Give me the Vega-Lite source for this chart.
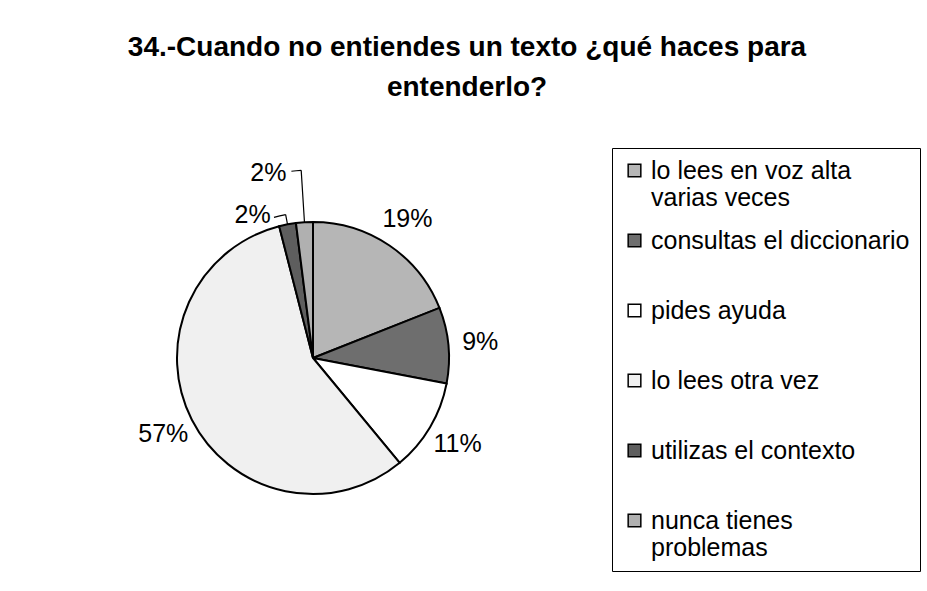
{
  "$schema": "https://vega.github.io/schema/vega-lite/v6.json",
  "autosize": "none",
  "width": 300,
  "height": 300,
  "padding": {"left": 163, "top": 208, "right": 464, "bottom": 83},
  "background": "white",
  "config": {"view": {"stroke": null}, "font": "Liberation Sans"},
  "title": {
    "text": ["34.-Cuando no entiendes un texto ¿qué haces para", "entenderlo?"],
    "font": "Liberation Sans",
    "fontSize": 28,
    "fontWeight": "bold",
    "lineHeight": 40,
    "anchor": "middle",
    "frame": "group",
    "dx": 154,
    "offset": 46,
    "color": "black"
  },
  "data": {
    "values": [
      {"cat": "lo lees en voz alta varias veces", "pct": 0.19, "ord": 1},
      {"cat": "consultas el diccionario", "pct": 0.09, "ord": 2},
      {"cat": "pides ayuda", "pct": 0.11, "ord": 3},
      {"cat": "lo lees otra vez", "pct": 0.57, "ord": 4},
      {"cat": "utilizas el contexto", "pct": 0.02, "ord": 5},
      {"cat": "nunca tienes problemas", "pct": 0.02, "ord": 6}
    ]
  },
  "encoding": {
    "theta": {"field": "pct", "type": "quantitative", "stack": true},
    "order": {"field": "ord", "type": "quantitative"}
  },
  "layer": [
    {
      "mark": {"type": "arc", "outerRadius": 136, "stroke": "black", "strokeWidth": 2},
      "encoding": {
        "color": {
          "field": "cat",
          "type": "nominal",
          "scale": {
            "domain": ["lo lees en voz alta varias veces", "consultas el diccionario", "pides ayuda", "lo lees otra vez", "utilizas el contexto", "nunca tienes problemas"],
            "range": ["#b6b6b6", "#6e6e6e", "#ffffff", "#f0f0f0", "#5e5e5e", "#b0b0b0"]
          },
          "legend": {
            "title": null,
            "orient": "none",
            "legendX": 449,
            "legendY": -60,
            "padding": 10,
            "columns": 1,
            "gridAlign": "all",
            "strokeColor": "black",
            "fillColor": "white",
            "symbolType": "square",
            "symbolSize": 160,
            "symbolOffset": 0,
            "symbolStrokeColor": "black",
            "symbolStrokeWidth": 1.5,
            "labelFont": "Liberation Sans",
            "labelFontSize": 25,
            "labelColor": "black",
            "labelLimit": 400,
            "labelOffset": 4,
            "rowPadding": 17,
            "labelExpr": "datum.label == 'lo lees en voz alta varias veces' ? ['lo lees en voz alta', 'varias veces'] : datum.label == 'nunca tienes problemas' ? ['nunca tienes', 'problemas'] : datum.label"
          }
        }
      }
    },
    {
      "mark": {"type": "arc", "innerRadius": 136, "outerRadius": 188, "padAngle": 0.2, "fill": "transparent", "stroke": "black", "strokeWidth": 1.2},
      "encoding": {
        "strokeOpacity": {"condition": {"test": "datum.ord == 6", "value": 1}, "value": 0}
      }
    },
    {
      "mark": {"type": "arc", "innerRadius": 188, "outerRadius": 188, "padAngle": 0.0519, "thetaOffset": -0.0262, "fill": "transparent", "stroke": "black", "strokeWidth": 1.2},
      "encoding": {
        "strokeOpacity": {"condition": {"test": "datum.ord == 6", "value": 1}, "value": 0}
      }
    },
    {
      "mark": {"type": "arc", "innerRadius": 136, "outerRadius": 146, "padAngle": 0.2, "fill": "transparent", "stroke": "black", "strokeWidth": 1.2},
      "encoding": {
        "strokeOpacity": {"condition": {"test": "datum.ord == 5", "value": 1}, "value": 0}
      }
    },
    {
      "mark": {"type": "arc", "innerRadius": 146, "outerRadius": 146, "padAngle": 0.0308, "thetaOffset": -0.041, "fill": "transparent", "stroke": "black", "strokeWidth": 1.2},
      "encoding": {
        "strokeOpacity": {"condition": {"test": "datum.ord == 5", "value": 1}, "value": 0}
      }
    },
    {
      "mark": {"type": "text", "radius": 168, "fontSize": 25, "font": "Liberation Sans", "color": "black"},
      "encoding": {
        "text": {
          "condition": {"test": "datum.pct < 0.05", "value": ""},
          "field": "pct", "type": "quantitative", "format": ".0%"
        }
      }
    },
    {
      "mark": {"type": "text", "radius": 146, "fontSize": 25, "font": "Liberation Sans", "color": "black", "align": "right", "dx": -15},
      "encoding": {
        "text": {
          "condition": {"test": "datum.ord != 5", "value": ""},
          "field": "pct", "type": "quantitative", "format": ".0%"
        }
      }
    },
    {
      "mark": {"type": "text", "radius": 185, "fontSize": 25, "font": "Liberation Sans", "color": "black", "align": "right", "dx": -15},
      "encoding": {
        "text": {
          "condition": {"test": "datum.ord != 6", "value": ""},
          "field": "pct", "type": "quantitative", "format": ".0%"
        }
      }
    }
  ]
}
